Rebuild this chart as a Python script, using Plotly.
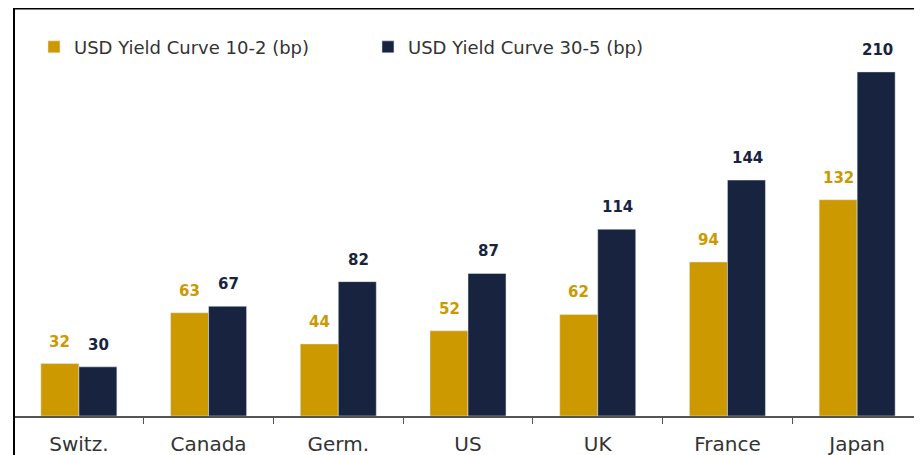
import plotly.graph_objects as go

countries = ["Switz.", "Canada", "Germ.", "US", "UK", "France", "Japan"]
curve_10_2 = [32, 63, 44, 52, 62, 94, 132]
curve_30_5 = [30, 67, 82, 87, 114, 144, 210]

GOLD = "#CC9900"
NAVY = "#18243F"
FONT = "DejaVu Sans"

fig = go.Figure()
fig.add_trace(go.Bar(x=countries, y=curve_10_2, name="USD Yield Curve 10-2 (bp)",
                     marker_color=GOLD))
fig.add_trace(go.Bar(x=countries, y=curve_30_5, name="USD Yield Curve 30-5 (bp)",
                     marker_color=NAVY))

# value labels sit well above the bars, like the source chart
for c, v in zip(countries, curve_10_2):
    fig.add_annotation(x=c, y=v, text=f"<b>{v}</b>", showarrow=False, xshift=-19,
                       yanchor="bottom", yshift=11, font=dict(size=15, color=GOLD, family=FONT))
for c, v in zip(countries, curve_30_5):
    fig.add_annotation(x=c, y=v, text=f"<b>{v}</b>", showarrow=False, xshift=20,
                       yanchor="bottom", yshift=11, font=dict(size=15, color=NAVY, family=FONT))

# frame lines (top and left edge of the original panel)
fig.add_shape(type="line", xref="paper", yref="paper", x0=0, x1=1.1, y0=1, y1=1,
              line=dict(color="black", width=3))
fig.add_shape(type="line", xref="paper", yref="paper", x0=0, x1=0, y0=-0.2, y1=1,
              line=dict(color="black", width=2))

# page body has an 8px margin, so the figure is a bit smaller than the window
fig.update_layout(
    width=914, height=447,
    margin=dict(l=6, r=0, t=0, b=39),
    barmode="group", bargap=0.414, bargroupgap=0,
    plot_bgcolor="white", paper_bgcolor="white",
    font=dict(family=FONT, color="#333333"),
    legend=dict(orientation="h", x=0.022, y=0.904, xanchor="left", yanchor="middle",
                font=dict(size=18, color="#333333"), entrywidth=289, entrywidthmode="pixels",
                itemclick=False),
)
fig.update_xaxes(showline=True, linecolor="#555555", linewidth=1.5, ticks="outside",
                 tickson="boundaries", ticklen=6, tickcolor="#555555",
                 ticklabelstandoff=9, tickfont=dict(size=20, color="#333333"))
fig.update_yaxes(range=[0, 249], visible=False)

fig.write_html("out.html")
